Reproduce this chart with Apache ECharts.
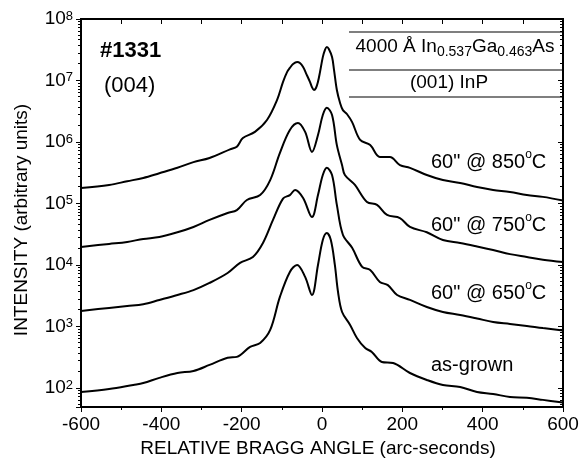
<!DOCTYPE html>
<html>
<head>
<meta charset="utf-8">
<script src="https://cdn.jsdelivr.net/npm/echarts@6/dist/echarts.min.js"></script>
<style>
  html, body { margin: 0; padding: 0; background: #fff; }
  #chart { width: 588px; height: 476px; }
</style>
</head>
<body>
<div id="chart"></div>
<script>
// relative Bragg angle (arc-seconds) and intensity for each curve
var angle850 = [-600, -530, -485, -445, -405, -360, -320, -280, -229, -212, -197, -167, -137, -112, -97, -87, -80, -72, -62, -55, -47, -40, -30, -25, -20, -15, -10, -5, 2, 7, 12, 17, 25, 30, 37, 45, 52, 62, 75, 95, 120, 144, 169, 194, 219, 261, 301, 344, 386, 426, 468, 510, 550, 600];
var int850 = [1.79e5, 2.0e5, 2.3e5, 2.6e5, 3.1e5, 3.8e5, 4.7e5, 5.5e5, 7.6e5, 8.4e5, 1.16e6, 1.46e6, 2.28e6, 4.8e6, 9.5e6, 1.37e7, 1.6e7, 1.85e7, 2.0e7, 1.93e7, 1.66e7, 1.32e7, 9.5e6, 7.8e6, 7.0e6, 7.55e6, 9.5e6, 1.37e7, 2.4e7, 3.1e7, 3.5e7, 3.25e7, 2.4e7, 1.48e7, 7.0e6, 4.3e6, 3.3e6, 2.85e6, 2.1e6, 1.08e6, 8.9e5, 5.7e5, 5.7e5, 4.2e5, 3.8e5, 2.9e5, 2.4e5, 2.15e5, 1.85e5, 1.66e5, 1.54e5, 1.37e5, 1.28e5, 1.12e5];

var angle750 = [-600, -530, -485, -445, -405, -360, -320, -280, -235, -212, -187, -154, -129, -105, -80, -60, -42, -25, -10, 2, 12, 25, 37, 50, 57, 82, 112, 137, 162, 194, 219, 261, 301, 344, 386, 426, 468, 510, 550, 600];
var int750 = [1.96e4, 2.2e4, 2.37e4, 2.65e4, 2.85e4, 3.4e4, 4.15e4, 5.4e4, 7.0e4, 7.8e4, 1.14e5, 1.37e5, 2.4e5, 6.6e5, 1.57e6, 2.04e6, 1.46e6, 6.9e5, 1.3e6, 2.75e6, 3.6e6, 2.75e6, 8.9e5, 4.2e5, 2.9e5, 2.0e5, 1.06e5, 9.5e4, 6.5e4, 5.8e4, 4.15e4, 3.4e4, 2.55e4, 2.28e4, 2.0e4, 1.75e4, 1.5e4, 1.35e4, 1.22e4, 1.12e4];

var angle650 = [-600, -530, -485, -445, -405, -360, -320, -280, -235, -204, -172, -147, -122, -97, -80, -67, -47, -25, -10, 2, 12, 25, 37, 52, 75, 100, 120, 144, 164, 187, 219, 261, 301, 344, 386, 426, 468, 510, 550, 600];
var int650 = [1.79e3, 2.0e3, 2.15e3, 2.3e3, 2.7e3, 3.25e3, 3.9e3, 5.1e3, 7.4e3, 1.08e4, 1.35e4, 2.28e4, 5.4e4, 1.2e5, 1.37e5, 1.66e5, 1.23e5, 6.0e4, 1.37e5, 2.9e5, 3.8e5, 2.9e5, 9.5e4, 3.1e4, 1.9e4, 9.3e3, 8.3e3, 5.3e3, 4.7e3, 3.25e3, 2.7e3, 2.07e3, 1.72e3, 1.54e3, 1.35e3, 1.18e3, 1.1e3, 1.02e3, 9.4e2, 8.6e2];

var angleAsGrown = [-600, -530, -470, -445, -405, -360, -320, -280, -235, -212, -179, -154, -129, -105, -80, -62, -42, -25, -10, 2, 12, 22, 32, 40, 50, 70, 87, 107, 124, 149, 177, 219, 261, 301, 344, 386, 426, 468, 510, 550, 600];
var intAsGrown = [86, 96, 112, 120, 146, 175, 189, 237, 310, 320, 465, 540, 880, 3.0e3, 7.7e3, 1.0e4, 6.4e3, 3.25e3, 1.0e4, 2.55e4, 3.3e4, 2.55e4, 1.0e4, 3.6e3, 1.72e3, 1.06e3, 650, 450, 385, 265, 255, 175, 135, 112, 104, 86, 80, 71, 69, 64, 58];

var curveLabels = ['60" @ 850{s|o}C', '60" @ 750{s|o}C', '60" @ 650{s|o}C', 'as-grown'];
var labelY = [162, 225, 293, 365];

var FONT = 'Liberation Sans, Arial, Helvetica, sans-serif';

function pairs(xs, ys) {
    return xs.map(function (x, i) { return [x, ys[i]]; });
}

function powLabel(v) {
    var e = Math.log10(v);
    if (Math.abs(e - Math.round(e)) > 1e-6) return '';
    return '{b|10}{s|' + Math.round(e) + '}';
}

var myChart = echarts.init(document.getElementById('chart'));

var lineSeries = [
    pairs(angle850, int850),
    pairs(angle750, int750),
    pairs(angle650, int650),
    pairs(angleAsGrown, intAsGrown)
].map(function (d) {
    return {
        type: 'line',
        data: d,
        smooth: 0.35,
        showSymbol: false,
        lineStyle: { color: '#000', width: 2 },
        xAxisIndex: 0,
        yAxisIndex: 0
    };
});

var graphics = [
    // plot frame
    { type: 'rect', shape: { x: 81, y: 19, width: 482, height: 388 }, style: { fill: 'none', stroke: '#000', lineWidth: 2 }, silent: true },
    { type: 'text', x: 100, y: 51, style: { text: '#1331', font: '600 22px ' + FONT, fill: '#000', textVerticalAlign: 'middle', verticalAlign: 'middle' } },
    { type: 'text', x: 104, y: 86, style: { text: '(004)', font: '22px ' + FONT, fill: '#000', textVerticalAlign: 'middle', verticalAlign: 'middle' } },
    { type: 'line', shape: { x1: 349, y1: 32, x2: 563, y2: 32 }, style: { stroke: '#000', lineWidth: 1.2 } },
    { type: 'line', shape: { x1: 349, y1: 70, x2: 563, y2: 70 }, style: { stroke: '#000', lineWidth: 1.2 } },
    { type: 'line', shape: { x1: 349, y1: 97, x2: 563, y2: 97 }, style: { stroke: '#000', lineWidth: 1.2 } },
    {
        type: 'text', x: 455, y: 47,
        style: {
            text: '{m|4000 Å In}{d|0.537}{m|Ga}{d|0.463}{m|As}',
            textAlign: 'center', align: 'center', textVerticalAlign: 'middle', verticalAlign: 'middle',
            rich: {
                m: { fontSize: 19, lineHeight: 24, fontFamily: FONT, color: '#000' },
                d: { fontSize: 14, verticalAlign: 'bottom', fontFamily: FONT, color: '#000' }
            }
        }
    },
    { type: 'text', x: 449, y: 83, style: { text: '(001) InP', font: '19px ' + FONT, fill: '#000', textAlign: 'center', align: 'center', textVerticalAlign: 'middle', verticalAlign: 'middle' } },
    // axis titles
    { type: 'text', x: 318, y: 449, style: { text: 'RELATIVE BRAGG ANGLE (arc-seconds)', font: '19px ' + FONT, fill: '#000', textAlign: 'center', align: 'center', textVerticalAlign: 'middle', verticalAlign: 'middle' } },
    { type: 'text', x: 22, y: 220, rotation: Math.PI / 2, style: { text: 'INTENSITY (arbitrary units)', font: '19px ' + FONT, fill: '#000', textAlign: 'center', align: 'center', textVerticalAlign: 'middle', verticalAlign: 'middle' } }
];

curveLabels.forEach(function (t, i) {
    graphics.push({
        type: 'text', x: 431, y: labelY[i],
        style: {
            text: '{m|' + t.replace('{s|o}', '}{s|o}{m|') + '}',
            textVerticalAlign: 'middle', verticalAlign: 'middle',
            rich: {
                m: { fontSize: 20, lineHeight: 26, fontFamily: FONT, color: '#000' },
                s: { fontSize: 12, verticalAlign: 'top', fontFamily: FONT, color: '#000' }
            }
        }
    });
});

function axisLine() {
    return { show: true, onZero: false, lineStyle: { color: '#000', width: 2 } };
}

option = {
    backgroundColor: '#fff',
    animation: false,
    grid: { left: 81, right: 25, top: 19, bottom: 69 },
    xAxis: [
        {
            type: 'value', min: -600, max: 600, interval: 200, position: 'bottom',
            axisLine: axisLine(),
            axisTick: { inside: false, length: 5 },
            minorTick: { show: true, splitNumber: 2, length: 3 },
            splitLine: { show: false },
            axisLabel: { fontSize: 19, color: '#000', fontFamily: FONT }
        },
        {
            type: 'value', min: -600, max: 600, interval: 100, position: 'top',
            axisLine: axisLine(),
            axisTick: { inside: true, length: 5 },
            splitLine: { show: false },
            axisLabel: { show: false }
        }
    ],
    yAxis: [
        {
            type: 'log', logBase: 10, min: 49, max: 1e8, splitNumber: 7, position: 'left',
            axisLine: axisLine(),
            axisTick: { inside: false, length: 5 },
            minorTick: { show: true, splitNumber: 10, length: 3 },
            splitLine: { show: false },
            minorSplitLine: { show: false },
            axisLabel: {
                formatter: powLabel,
                showMinLabel: true,
                rich: {
                    b: { fontSize: 19, color: '#000' },
                    s: { fontSize: 13, verticalAlign: 'top', color: '#000' }
                }
            }
        },
        {
            type: 'log', logBase: 10, min: 49, max: 1e8, splitNumber: 7, position: 'right',
            axisLine: axisLine(),
            axisTick: { inside: true, length: 5 },
            minorTick: { show: true, splitNumber: 10, length: 3 },
            splitLine: { show: false },
            axisLabel: { show: false }
        }
    ],
    series: lineSeries,
    graphic: graphics
};

myChart.setOption(option);
</script>
</body>
</html>
